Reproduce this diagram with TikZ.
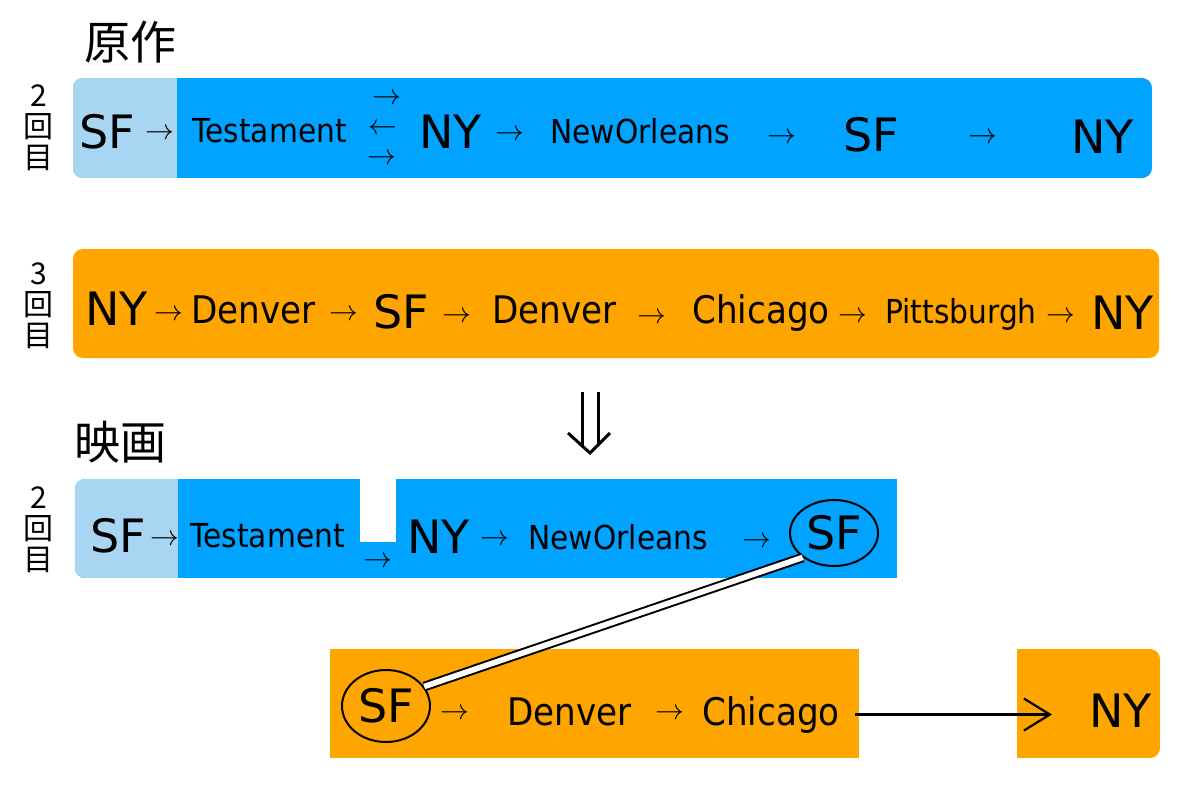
\documentclass[tikz,border=0pt]{standalone}
\usepackage{fontspec}
\setmainfont{DejaVu Sans}
\newfontfamily\narrowfont{DejaVu Sans}[FakeStretch=0.9]
\newfontfamily\jpfont{Noto Sans CJK JP}
\usepackage{tikz}
\usetikzlibrary{shapes.geometric,arrows.meta}
\definecolor{skyblue}{RGB}{0,163,255}
\definecolor{paleblue}{RGB}{167,213,242}
\definecolor{amber}{RGB}{255,165,0}
\newcommand{\rarr}{$\rightarrow$}
\newcommand{\larr}{$\leftarrow$}
\tikzset{
	bigname/.style={anchor=base west, inner sep=0pt, font=\fontsize{23}{24}\selectfont},
	town/.style={anchor=base west, inner sep=0pt, font=\narrowfont\fontsize{19}{20}\selectfont},
	smalltown/.style={anchor=base west, inner sep=0pt, font=\narrowfont\fontsize{16.5}{18}\selectfont},
	arr/.style={anchor=base west, inner sep=0pt, font=\fontsize{14.4}{15}\selectfont},
	title/.style={inner sep=0pt, font=\jpfont\fontsize{23}{25}\selectfont},
	rowlabel/.style={inner sep=0pt, align=center, font=\jpfont\fontsize{15}{15.5}\selectfont},
	ring/.style={draw, ellipse, line width=1pt, inner sep=0pt, minimum width=44pt, font=\fontsize{23}{24}\selectfont},
	twoline/.style={double, line width=1pt, double distance=2.8pt},
	bigarrow/.style={line width=1.1pt, -{Straight Barb[length=13pt,width=16pt]}, shorten <=7.5pt, shorten >=18.5pt}
}
\begin{document}
\begin{tikzpicture}[x=0.5pt, y=-0.5pt]
	\useasboundingbox (0,0) rectangle (1200,800);
	\begin{scope}
		\clip[rounded corners=5pt] (73,78) rectangle (1152,178);
		\fill[skyblue] (73,78) rectangle (1152,178);
		\fill[paleblue] (73,78) rectangle (177,178);
	\end{scope}
	\fill[amber, rounded corners=5pt] (73,249) rectangle (1159,358);
	\begin{scope}
		\clip[rounded corners=5pt] (75,479) rectangle (930,578);
		\fill[skyblue] (75,479) rectangle (897,578);
		\fill[paleblue] (75,479) rectangle (178,578);
	\end{scope}
	\fill[white] (360,477) rectangle (396,542);
	\fill[amber] (330,649) rectangle (859,758);
	\begin{scope}
		\clip[rounded corners=5pt] (990,649) rectangle (1160,758);
		\fill[amber] (1017,649) rectangle (1160,758);
	\end{scope}
	\draw[line width=1.5pt] (582,392) -- (582,446) (598,392) -- (598,446);
	\draw[line width=1.5pt] (568,433) -- (590,453) -- (610,433);

	\node[title] (orig) at (130,42) {原作};
	\node[title] (film) at (121,442) {映画};
	\node[rowlabel] (lab1) at (39,128) {2\\回\\目};
	\node[rowlabel] (lab2) at (39,306) {3\\回\\目};
	\node[rowlabel] (lab3) at (39,530) {2\\回\\目};

	\node[bigname] (sf1) at (79,148) {SF};
	\node[arr] (a11) at (145,139) {\rarr};
	\node[smalltown] (tes1) at (192,142) {Testament};
	\node[arr] (a12) at (372,104) {\rarr};
	\node[arr] (a13) at (368,134) {\larr};
	\node[arr] (a14) at (367,164) {\rarr};
	\node[bigname] (ny1) at (419,148) {NY};
	\node[arr] (a15) at (495,140) {\rarr};
	\node[smalltown] (no1) at (550,143) {NewOrleans};
	\node[arr] (a16) at (767,143) {\rarr};
	\node[bigname] (sf1b) at (843,151) {SF};
	\node[arr] (a17) at (968,143) {\rarr};
	\node[bigname] (ny1b) at (1071,153) {NY};

	\node[bigname] (ny2) at (85,325) {NY};
	\node[arr] (a21) at (154,320) {\rarr};
	\node[town] (den2) at (191,323) {Denver};
	\node[arr] (a22) at (329,320) {\rarr};
	\node[bigname] (sf2) at (373,328) {SF};
	\node[arr] (a23) at (442,322) {\rarr};
	\node[town] (den2b) at (492,323) {Denver};
	\node[arr] (a24) at (637,323) {\rarr};
	\node[town] (chi2) at (692,323) {Chicago};
	\node[arr] (a25) at (838,322) {\rarr};
	\node[smalltown] (pit2) at (885,323) {Pittsburgh};
	\node[arr] (a26) at (1046,322) {\rarr};
	\node[bigname] (ny2b) at (1091,329) {NY};

	\node[bigname] (sf3a) at (90,552) {SF};
	\node[arr] (a31) at (150,545) {\rarr};
	\node[smalltown] (tes3) at (190,547) {Testament};
	\node[arr] (a32) at (363,567) {\rarr};
	\node[bigname] (ny3) at (407,553) {NY};
	\node[arr] (a33) at (480,545) {\rarr};
	\node[smalltown] (no3) at (528,549) {NewOrleans};
	\node[arr] (a34) at (742,547) {\rarr};
	\node[ring, minimum height=33pt] (sf3) at (834,533) {SF};

	\node[ring, minimum height=36pt] (sf4) at (386,706) {SF};
	\node[arr] (a41) at (440,719) {\rarr};
	\node[town] (den4) at (507,725) {Denver};
	\node[arr] (a42) at (655,719) {\rarr};
	\node[town] (chi4) at (702,725) {Chicago};
	\node[bigname] (ny4) at (1089,727) {NY};

	\path (sf3.218) edge[twoline] (sf4.27)
		(chi4.east) edge[bigarrow] (chi4.east -| ny4.west);
\end{tikzpicture}
\end{document}
